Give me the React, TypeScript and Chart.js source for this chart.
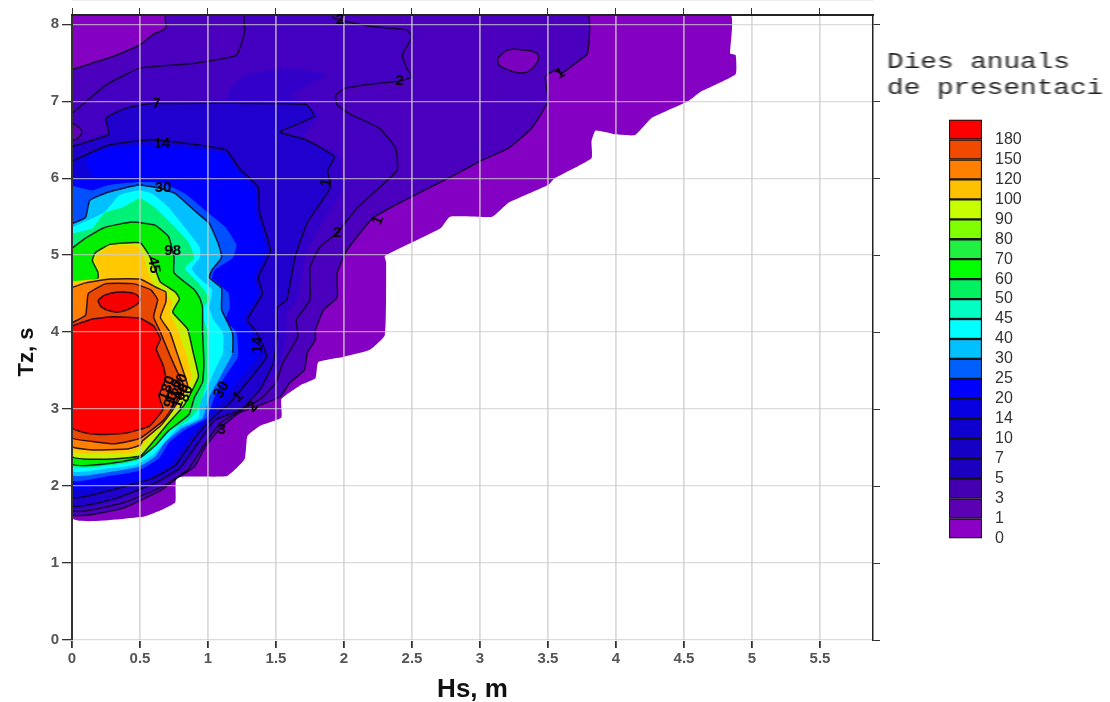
import React, { useEffect, useRef } from "react";
import { Chart, registerables } from "chart.js";
Chart.register(...registerables);

type P = [number, number];

const hsMax = 5.89;
const tzMax = 8.12;

const level0: P[] = [[0,8.12],[4.84,8.12],[4.84,7.62],[4.88,7.6],[4.88,7.35],[4.62,7.12],[4.53,7],[4.26,6.78],[4.14,6.56],[4,6.57],[3.85,6.62],[3.82,6.48],[3.82,6.26],[3.55,6],[3.5,5.91],[3.21,5.68],[3.09,5.5],[2.78,5.5],[2.71,5.35],[2.3,4.99],[2.31,4.91],[2.3,3.96],[2.19,3.77],[2,3.68],[1.81,3.61],[1.79,3.4],[1.68,3.31],[1.54,3.13],[1.54,2.89],[1.38,2.78],[1.29,2.65],[1.27,2.35],[1.14,2.13],[.77,2.11],[.76,1.79],[.67,1.7],[.52,1.6],[0,1.59]];
const level1: P[] = [[0,7.41],[.3,7.58],[.5,7.73],[.59,7.86],[.69,7.95],[.69,8.12],[3.79,8.12],[3.79,7.62],[3.7,7.49],[3.6,7.36],[3.55,7.4],[3.48,7.32],[3.5,7],[3.38,6.65],[3.21,6.39],[3,6.22],[2.79,6.02],[2.41,5.68],[2.21,5.48],[2.02,5.06],[1.95,4.77],[1.95,4.45],[1.85,4.29],[1.79,4.03],[1.79,3.9],[1.73,3.73],[1.71,3.51],[1.6,3.34],[1.53,3.16],[1.38,3.05],[1.23,2.95],[1.1,2.77],[.98,2.51],[.9,2.25],[.77,2.1],[.66,1.95],[.37,1.71],[0,1.64]];
const level1Hole: P[] = [[3.13,7.56],[3.2,7.66],[3.3,7.67],[3.42,7.62],[3.42,7.5],[3.33,7.37],[3.22,7.4],[3.14,7.47]];
const level2: P[] = [[0,6.84],[.25,7.21],[.5,7.43],[.89,7.49],[1.21,7.6],[1.27,7.9],[1.27,8.12],[1.92,8.12],[1.92,8.08],[2.11,8],[2.26,7.96],[2.46,7.93],[2.5,7.84],[2.43,7.6],[2.46,7.43],[2.5,7.32],[2.41,7.26],[2.24,7.23],[2.01,7.17],[1.94,7.08],[1.95,6.95],[2.06,6.82],[2.26,6.65],[2.38,6.39],[2.39,6.1],[2.1,5.62],[1.95,5.29],[1.82,5.1],[1.75,4.84],[1.75,4.42],[1.65,4.16],[1.66,3.94],[1.55,3.6],[1.5,3.35],[1.4,3.15],[1.26,3],[1.09,2.82],[.97,2.53],[.85,2.21],[.66,1.99],[.37,1.78],[0,1.69]];
const level2Lobe: P[] = [[0,6.72],[.07,6.62],[.05,6.53],[0,6.5]];
const level3: P[] = [[0,6.44],[.27,6.6],[.25,6.8],[.4,6.93],[.59,7],[1.13,7.02],[1.16,7.17],[1.28,7.34],[1.57,7.43],[1.87,7.34],[1.62,7.08],[1.82,6.83],[1.75,6.65],[1.7,6.52],[1.96,6.3],[1.99,6],[1.99,5.85],[1.85,5.45],[1.72,5],[1.66,4.42],[1.58,4.25],[1.58,3.95],[1.53,3.6],[1.4,3.25],[1.26,3.02],[1.07,2.84],[.95,2.55],[.82,2.22],[.63,2.01],[.34,1.81],[0,1.72]];
const level7: P[] = [[0,6.41],[.27,6.57],[.25,6.78],[.4,6.91],[.59,6.97],[1.72,6.96],[1.78,6.8],[1.53,6.6],[1.72,6.5],[1.93,6.28],[1.88,6.1],[1.9,5.88],[1.73,5.42],[1.64,4.97],[1.58,4.42],[1.51,4.32],[1.51,3.99],[1.48,3.6],[1.38,3.25],[1.24,2.99],[1.05,2.86],[.93,2.57],[.79,2.23],[.61,2.04],[.32,1.84],[0,1.75]];
const level14: P[] = [[0,6.22],[.27,6.43],[.59,6.5],[1.13,6.37],[1.23,6.13],[1.37,5.88],[1.38,5.55],[1.46,5.06],[1.37,4.71],[1.4,4.5],[1.29,4.16],[1.36,3.99],[1.43,3.68],[1.26,3.29],[1.16,3.08],[1.03,2.88],[.9,2.62],[.76,2.27],[.59,2.1],[.29,1.95],[0,1.86]];
const level20: P[] = [[0,5.98],[.15,6.02],[.1,6.22],[.15,6.32],[.27,6.39],[.59,6.43],[1.13,6.32],[1.2,6.13],[1.34,5.88],[1.35,5.55],[1.43,5.06],[1.34,4.71],[1.37,4.5],[1.26,4.16],[1.32,4],[1.38,3.73],[1.21,3.34],[1.11,3.12],[.98,2.86],[.86,2.62],[.71,2.27],[.53,2.08],[.27,2.01],[0,1.97]];
const level25: P[] = [[0,5.9],[.15,5.84],[.27,5.91],[.49,5.95],[.66,5.94],[.83,5.8],[.98,5.58],[1.13,5.36],[1.21,5.13],[1.18,4.96],[1.05,4.81],[1.03,4.7],[1.15,4.51],[1.16,4.32],[1.13,4.16],[1.21,3.99],[1.22,3.68],[1.11,3.38],[1.04,3.12],[.99,2.88],[.83,2.73],[.71,2.56],[.64,2.36],[.49,2.2],[.27,2.13],[0,2.08]];
const level30: P[] = [[0,5.41],[.1,5.49],[.13,5.71],[.27,5.82],[.49,5.91],[.64,5.87],[.76,5.8],[.9,5.58],[1.01,5.41],[1.08,5.13],[1.1,4.97],[1.03,4.81],[1.01,4.71],[1.1,4.57],[1.1,4.29],[1.18,3.99],[1.18,3.73],[1.09,3.42],[1.01,3.16],[.96,2.88],[.81,2.75],[.68,2.56],[.61,2.38],[.49,2.25],[.27,2.18],[0,2.15]];
const level40: P[] = [[0,5.36],[.24,5.56],[.35,5.78],[.49,5.84],[.59,5.8],[.71,5.62],[.83,5.36],[.94,5.1],[.94,4.97],[.88,4.83],[.93,4.71],[1.03,4.55],[1.01,4.32],[1.04,4.16],[1.11,3.99],[1.11,3.73],[1.04,3.47],[.99,3.25],[.94,3.08],[.93,2.88],[.79,2.77],[.68,2.57],[.59,2.4],[.46,2.27],[.27,2.23],[0,2.2]];
const level50: P[] = [[0,5.28],[.15,5.35],[.24,5.55],[.37,5.62],[.5,5.74],[.61,5.62],[.76,5.36],[.86,5.16],[.9,4.96],[.83,4.83],[.93,4.64],[1.01,4.44],[.95,4.28],[.98,4.1],[1,3.99],[1,3.7],[1,3.4],[.96,3.15],[.93,3],[.86,2.86],[.7,2.69],[.61,2.51],[.49,2.34],[.29,2.27],[0,2.26]];
const level60: P[] = [[0,5.09],[.1,5.22],[.24,5.36],[.44,5.43],[.61,5.39],[.71,5.24],[.75,4.97],[.75,4.77],[.9,4.55],[.94,4.44],[.96,4.32],[.96,4],[.97,3.6],[.96,3.35],[.9,3.15],[.86,2.93],[.71,2.72],[.62,2.54],[.5,2.37],[.3,2.3],[0,2.29]];
const level90: P[] = [[0,4.62],[.19,4.69],[.19,4.78],[.15,4.93],[.17,5.03],[.28,5.14],[.5,5.16],[.57,4.99],[.62,4.78],[.65,4.65],[.76,4.52],[.79,4.43],[.74,4.26],[.85,4.04],[.89,3.74],[.93,3.43],[.9,3.3],[.82,3.04],[.69,2.78],[.57,2.52],[.5,2.39],[.28,2.35],[0,2.39]];
const level100: P[] = [[0,4.66],[.2,4.7],[.2,4.8],[.17,4.93],[.2,5.03],[.3,5.12],[.48,5.12],[.53,4.97],[.56,4.78],[.6,4.62],[.7,4.47],[.74,4.4],[.72,4.25],[.78,4.02],[.84,3.72],[.88,3.42],[.85,3.28],[.77,3.03],[.64,2.8],[.53,2.55],[.45,2.43],[.28,2.42],[0,2.46]];
const level120: P[] = [[0,4.58],[.1,4.64],[.28,4.69],[.5,4.69],[.62,4.58],[.69,4.52],[.69,4.39],[.65,4.19],[.72,4],[.77,3.74],[.83,3.43],[.85,3.3],[.79,3.13],[.73,2.96],[.65,2.78],[.52,2.59],[.5,2.53],[.4,2.48],[.15,2.47],[0,2.52]];
const level150: P[] = [[0,4.12],[.1,4.22],[.12,4.5],[.25,4.63],[.45,4.63],[.58,4.55],[.63,4.42],[.6,4.2],[.65,4],[.72,3.7],[.77,3.5],[.82,3.3],[.75,3.05],[.67,2.85],[.5,2.62],[.32,2.55],[.15,2.58],[0,2.63]];
const level180: P[] = [[0,4.08],[.15,4.17],[.3,4.2],[.5,4.18],[.6,4.08],[.65,3.91],[.62,3.78],[.67,3.57],[.69,3.4],[.64,3.17],[.67,3],[.57,2.78],[.4,2.69],[.22,2.67],[.1,2.69],[0,2.76]];
const level180Peak: P[] = [[.19,4.41],[.24,4.48],[.34,4.52],[.46,4.5],[.5,4.41],[.42,4.3],[.32,4.26],[.22,4.32]];

const hsTitle = "Hs, m";
const tzTitle = "Tz, s        ";
const legendTitle = ["Dies anuals", "de presentaci"];
const legendLabels = ["0","1","3","5","7","10","14","20","25","30","40","45","50","60","70","80","90","100","120","150","180"];
const legendColors = ["#8a00c4","#5c00b4","#4400b0","#1c00c0","#1600c4","#1000d0","#0800e0","#0000ff","#0060ff","#00c0ff","#00ffff","#00ffc0","#00f060","#00ff00","#20f040","#80ff00","#c8ff00","#ffc000","#ff8000","#f04a00","#ff0000"];

const labelText = ["7","14","30","98","45","14","30","1","2","3","1","2","1","2","1","2","180","150","120","100","90","80"];
const labelHs = [.62,.66,.67,.74,.6,1.37,1.1,1.22,1.33,1.1,1.87,1.95,2.25,2.41,3.59,1.97,.7,.75,.79,.8,.73,.84];
const labelTz = [6.96,6.45,5.87,5.06,4.87,3.83,3.25,3.16,3.03,2.73,5.94,5.29,5.45,7.26,7.36,8.06,3.27,3.23,3.3,3.17,3.12,3.2];
const labelRot = [0,0,0,0,80,-90,-60,-45,-45,0,-80,0,-70,0,-30,0,-70,-70,-70,-70,-70,-70];

const DARK = "rgba(10,0,30,0.85)";
const layers: { pts: P[]; color: string; line?: boolean; until?: number }[] = [
  { pts: level0, color: "#8400c2" },
  { pts: level1, color: "#4b00bd", line: true },
  { pts: level1Hole, color: "#7c00c0", line: true },
  { pts: level2, color: "#4400c0", line: true },
  { pts: level2Lobe, color: "#6400bc", line: true },
  { pts: level3, color: "#3200c8" },
  { pts: level7, color: "#2000cc", line: true },
  { pts: level14, color: "#0e00d8", line: true },
  { pts: level20, color: "#0000ff" },
  { pts: level25, color: "#0050ff" },
  { pts: level30, color: "#00c0ff", line: true, until: 16 },
  { pts: level40, color: "#00ffff" },
  { pts: level50, color: "#00f078" },
  { pts: level60, color: "#00f000", line: true },
  { pts: level90, color: "#c8f000", line: true },
  { pts: level100, color: "#ffc800" },
  { pts: level120, color: "#ff8000", line: true },
  { pts: level150, color: "#e84800", line: true },
  { pts: level180, color: "#ff0000", line: true },
  { pts: level180Peak, color: "#f40000", line: true },
];

const contourLabels = {
  id: "contourLabels",
  afterDraw(chart: any) {
    const { ctx, scales } = chart;
    ctx.save();
    ctx.fillStyle = "#0a000a";
    ctx.font = "bold 15px 'Liberation Sans'";
    ctx.textAlign = "center";
    ctx.textBaseline = "middle";
    labelText.forEach((t, i) => {
      ctx.save();
      ctx.translate(scales.x.getPixelForValue(labelHs[i]), scales.y.getPixelForValue(labelTz[i]));
      ctx.rotate((labelRot[i] * Math.PI) / 180);
      ctx.fillText(t, 0, 0);
      ctx.restore();
    });
    ctx.restore();
  },
};

const tickFont = { family: "'Liberation Sans'", size: 15, weight: "bold" as const };
const GRID = "rgba(205,205,205,0.72)";
const axisTitleFont = { family: "'Liberation Sans'", weight: "bold" as const };

export default function App() {
  const mapRef = useRef<HTMLCanvasElement>(null);
  const barRef = useRef<HTMLCanvasElement>(null);
  useEffect(() => {
    const map = new Chart(mapRef.current!, {
      type: "scatter",
      data: {
        datasets: layers.map((l, i) => ({
          data: [...l.pts, l.pts[0]].map(([x, y]) => ({ x, y })),
          showLine: true,
          fill: "shape",
          backgroundColor: l.color,
          borderColor: l.line ? DARK : "transparent",
          borderWidth: l.line ? 1.5 : 0,
          pointRadius: 0,
          tension: l.pts.length < 10 ? 0.4 : 0.13,
          order: layers.length - i,
          segment: l.until
            ? { borderColor: (c: any) => (c.p0DataIndex < l.until! ? DARK : "transparent") }
            : undefined,
        })),
      },
      options: {
        animation: false,
        responsive: false,
        plugins: { legend: { display: false }, tooltip: { enabled: false } },
        scales: {
          x: {
            type: "linear", min: 0, max: hsMax, position: "bottom",
            afterFit: (s: any) => { s.height = 62; },
            grid: { z: 1, color: GRID, lineWidth: 1.8, tickColor: "#333", tickLength: 8 },
            border: { color: GRID },
            ticks: { stepSize: 0.5, includeBounds: false, maxRotation: 0, color: "#555", font: tickFont, padding: 2, autoSkip: false, callback: (v: any) => String(v) },
            title: { display: true, text: hsTitle, color: "#111", font: { ...axisTitleFont, size: 26, lineHeight: 0.9 }, padding: { top: 6, bottom: 0 } },
          },
          y: {
            type: "linear", min: 0, max: tzMax, position: "left",
            afterFit: (s: any) => { s.width = 72; },
            grid: { z: 1, color: GRID, lineWidth: 1.3, tickColor: "#333", tickLength: 10 },
            border: { color: "#333", width: 2, z: 2 },
            ticks: { stepSize: 1, includeBounds: false, color: "#555", font: tickFont, padding: 3, callback: (v: any) => String(v) },
            title: { display: true, text: tzTitle, color: "#111", font: { ...axisTitleFont, size: 22 }, padding: { top: 14, bottom: 0 } },
          },
          x2: {
            type: "linear", min: 0, max: hsMax, position: "top",
            afterFit: (s: any) => { s.height = 15; },
            grid: { drawOnChartArea: false, tickColor: "#333", tickLength: 7 },
            border: { color: "#222", width: 2, z: 2 },
            ticks: { stepSize: 0.5, includeBounds: false, display: false },
          },
          y2: {
            type: "linear", min: 0, max: tzMax, position: "right",
            afterFit: (s: any) => { s.width = 237; },
            grid: { drawOnChartArea: false, tickColor: "#333", tickLength: 7 },
            border: { color: "#222", width: 1.5, z: 2 },
            ticks: { stepSize: 1, includeBounds: false, display: false },
          },
        },
      } as any,
      plugins: [contourLabels],
    });

    const bar = new Chart(barRef.current!, {
      type: "bar",
      data: {
        labels: [""],
        datasets: legendColors.map((c) => ({
          data: [1],
          backgroundColor: c,
          borderColor: "#151515",
          borderWidth: 1.5,
          borderSkipped: false,
          barPercentage: 1,
          categoryPercentage: 1,
          stack: "s",
        })),
      },
      options: {
        animation: false,
        responsive: false,
        layout: { padding: { left: 19 } },
        plugins: { legend: { display: false }, tooltip: { enabled: false } },
        scales: {
          x: { display: false, stacked: true },
          y: {
            stacked: true, min: 0, max: legendColors.length, position: "right",
            afterFit: (s: any) => { s.width = 68; },
            grid: { display: false },
            border: { display: false },
            ticks: {
              stepSize: 1, includeBounds: false, autoSkip: false, color: "#333", padding: 5,
              font: { family: "'Liberation Sans'", size: 16 },
              callback: (v: any) => legendLabels[v] ?? "",
            },
          },
        },
      } as any,
    });
    return () => { map.destroy(); bar.destroy(); };
  }, []);

  const blur = "blur(0.7px)";
  return (
    <div style={{ position: "fixed", left: 0, top: 0, width: 1110, height: 702, overflow: "hidden", background: "#fff" }}>
      <canvas ref={mapRef} width={1110} height={702} style={{ position: "absolute", left: 0, top: 0, filter: blur }} />
      <canvas ref={barRef} width={120} height={448} style={{ position: "absolute", left: 930, top: 105, filter: blur }} />
      <div style={{ position: "absolute", left: 887, top: 50, fontFamily: "'Liberation Mono'", fontSize: 22, lineHeight: "26px", color: "#222", whiteSpace: "pre", transform: "scaleX(1.26)", transformOrigin: "left top", filter: blur }}>
        {legendTitle.join("\n")}
      </div>
    </div>
  );
}
